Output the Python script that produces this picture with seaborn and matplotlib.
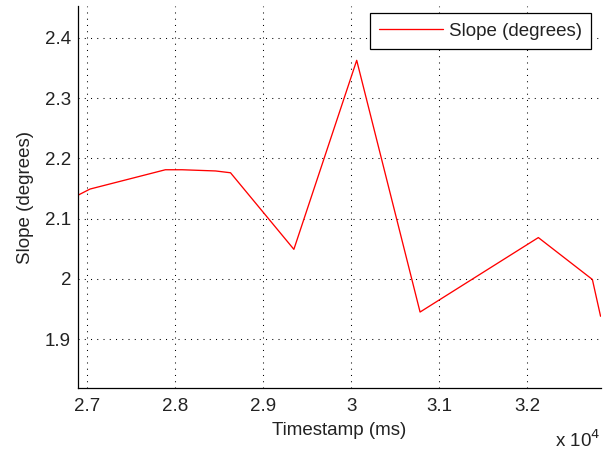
import matplotlib
matplotlib.use("Agg")
import matplotlib.pyplot as plt
import seaborn as sns
import pandas as pd
from matplotlib.ticker import FuncFormatter

# Values
timestamp_ms = [26900, 27034, 27890, 28080, 28460, 28630, 29350, 30064, 30784, 32128, 32742, 32835]
slope_deg = [2.139, 2.149, 2.181, 2.181, 2.179, 2.176, 2.049, 2.3625, 1.945, 2.0685, 1.999, 1.938]
x_ticks = [27000, 28000, 29000, 30000, 31000, 32000]
y_ticks = [1.9, 2.0, 2.1, 2.2, 2.3, 2.4]

df = pd.DataFrame({"Timestamp (ms)": timestamp_ms, "Slope (degrees)": slope_deg})

sns.set_style("white")
plt.rcParams['font.family'] = ['Liberation Sans', 'DejaVu Sans']
fs = 13.5

fig = plt.figure(figsize=(6.08, 4.51), dpi=100)
ax = fig.add_axes([78 / 608, 63 / 451, 523 / 608, 382 / 451])

sns.lineplot(data=df, x="Timestamp (ms)", y="Slope (degrees)", color="red",
             linewidth=0.95, label="Slope (degrees)", ax=ax, sort=False)

ax.set_xlim(26897, 32840)
ax.set_ylim(1.819, 2.4526)
ax.set_xticks(x_ticks)
ax.set_yticks(y_ticks)
ax.xaxis.set_major_formatter(FuncFormatter(lambda v, p: "%g" % round(v / 1e4, 3)))
ax.yaxis.set_major_formatter(FuncFormatter(lambda v, p: "%g" % round(v, 3)))

ax.grid(True, color="black", linestyle=(0, (1, 5)), linewidth=0.75)
for s in ["top", "right"]:
    ax.spines[s].set_visible(False)
for s in ["left", "bottom"]:
    ax.spines[s].set_color("black")
    ax.spines[s].set_linewidth(0.9)
ax.tick_params(direction="in", length=4, width=0.8, colors="#222222", labelsize=fs)
ax.tick_params(axis="x", pad=7)
ax.tick_params(axis="y", pad=5)

ax.set_xlabel("Timestamp (ms)", fontsize=fs, color="#222222")
ax.set_ylabel("Slope (degrees)", fontsize=fs, color="#222222")
ax.xaxis.set_label_coords(0.5, -0.088)
ax.yaxis.set_label_coords(-(78 - 34) / 523, 0.5)

fig.text(600 / 608, 4 / 451, "x 10$^{4}$", ha="right", va="baseline", fontsize=fs,
         color="#222222")

leg = ax.legend(loc="upper right", bbox_to_anchor=((591 - 78) / 523, (388 - 13) / 382),
                frameon=True, fancybox=False, fontsize=fs, handlelength=3.4,
                borderaxespad=0, borderpad=0.5, handletextpad=0.3)
leg.get_frame().set_edgecolor("black")
leg.get_frame().set_linewidth(0.9)
leg.get_frame().set_alpha(1)
for t in leg.get_texts():
    t.set_color("#222222")

fig.savefig("out.png", dpi=100)
